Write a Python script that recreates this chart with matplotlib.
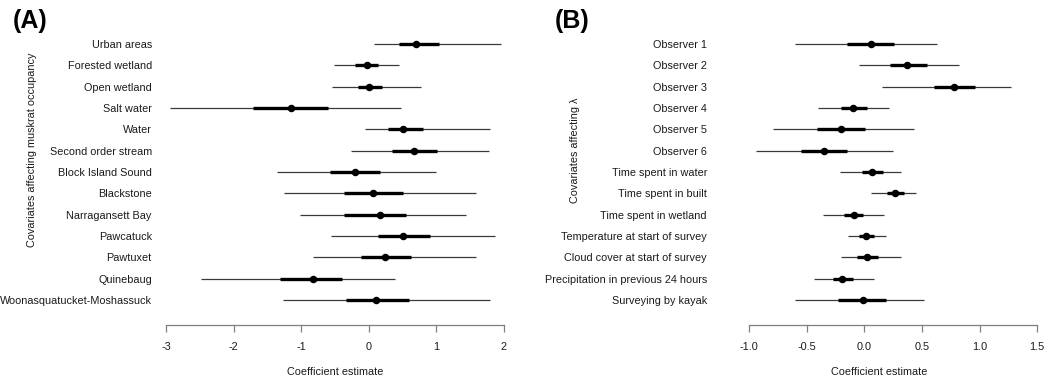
import matplotlib
matplotlib.use("Agg")
import matplotlib.pyplot as plt
import numpy as np

plt.rcParams['font.family'] = ['Liberation Sans', 'DejaVu Sans']

# ---- Panel A data ----
labels_a = ["Urban areas", "Forested wetland", "Open wetland", "Salt water", "Water",
            "Second order stream", "Block Island Sound", "Blackstone", "Narragansett Bay",
            "Pawcatuck", "Pawtuxet", "Quinebaug", "Woonasquatucket-Moshassuck"]
est_a = [0.70, -0.03, 0.01, -1.15, 0.50, 0.67, -0.20, 0.06, 0.16, 0.50, 0.24, -0.83, 0.11]
lo95_a = [0.07, -0.52, -0.54, -2.94, -0.06, -0.27, -1.36, -1.26, -1.02, -0.56, -0.83, -2.48, -1.27]
hi95_a = [1.96, 0.45, 0.77, 0.47, 1.79, 1.78, 0.99, 1.59, 1.44, 1.87, 1.59, 0.39, 1.80]
lo50_a = [0.45, -0.20, -0.16, -1.72, 0.28, 0.34, -0.57, -0.36, -0.37, 0.14, -0.12, -1.32, -0.34]
hi50_a = [1.04, 0.13, 0.20, -0.61, 0.80, 1.01, 0.17, 0.51, 0.55, 0.90, 0.62, -0.40, 0.59]
ticks_a = [-3, -2, -1, 0, 1, 2]
ticklabels_a = ["-3", "-2", "-1", "0", "1", "2"]

# ---- Panel B data ----
labels_b = ["Observer 1", "Observer 2", "Observer 3", "Observer 4", "Observer 5", "Observer 6",
            "Time spent in water", "Time spent in built", "Time spent in wetland",
            "Temperature at start of survey", "Cloud cover at start of survey",
            "Precipitation in previous 24 hours", "Surveying by kayak"]
est_b = [0.055, 0.37, 0.78, -0.10, -0.20, -0.35, 0.07, 0.27, -0.09, 0.015, 0.02, -0.19, -0.01]
lo95_b = [-0.60, -0.05, 0.15, -0.40, -0.79, -0.94, -0.21, 0.06, -0.36, -0.14, -0.20, -0.44, -0.60]
hi95_b = [0.63, 0.82, 1.27, 0.21, 0.43, 0.25, 0.32, 0.45, 0.17, 0.19, 0.32, 0.08, 0.52]
lo50_b = [-0.15, 0.22, 0.60, -0.20, -0.41, -0.55, -0.02, 0.20, -0.18, -0.05, -0.06, -0.27, -0.23]
hi50_b = [0.26, 0.54, 0.96, 0.02, 0.01, -0.15, 0.16, 0.34, -0.01, 0.08, 0.12, -0.10, 0.19]
ticks_b = [-1.0, -0.5, 0.0, 0.5, 1.0, 1.5]
ticklabels_b = ["-1.0", "-0.5", "0.0", "0.5", "1.0", "1.5"]

W, H = 1063, 383
fig = plt.figure(figsize=(W / 100, H / 100), dpi=100)

TXT = '#1a1a1a'
AXC = '#7f7f7f'
FS = 7.8


def add_ax(x0, x1, y_top, y_bot):
    return fig.add_axes([x0 / W, (H - y_bot) / H, (x1 - x0) / W, (y_bot - y_top) / H])


def draw(ax, labels, est, lo95, hi95, lo50, hi50, ticks, ticklabels, xlim, label_pad, xlab_x):
    n = len(labels)
    y = np.arange(1, n + 1)
    ax.hlines(y, lo95, hi95, color='#3a3a3a', lw=0.9, zorder=2)
    ax.hlines(y, lo50, hi50, color='black', lw=2.4, zorder=3)
    ax.plot(est, y, 'o', color='black', ms=4.4, zorder=4)
    ax.set_xlim(*xlim)
    ax.set_ylim(14.17, 0.344)
    ax.set_yticks(y)
    ax.set_yticklabels(labels, fontsize=FS, color=TXT)
    ax.tick_params(axis='y', length=0, pad=label_pad)
    ax.set_xticks(ticks)
    ax.set_xticklabels(ticklabels, fontsize=FS, color=TXT)
    ax.tick_params(axis='x', direction='out', length=5, width=0.9, color=AXC, pad=7)
    for s in ['top', 'right', 'left']:
        ax.spines[s].set_visible(False)
    ax.spines['bottom'].set_bounds(ticks[0], ticks[-1])
    ax.spines['bottom'].set_color(AXC)
    ax.spines['bottom'].set_linewidth(0.9)
    ax.set_xlabel("Coefficient estimate", fontsize=FS, color=TXT)
    ax.xaxis.set_label_coords(xlab_x, -0.159)
    ax.xaxis.label.set_va('center')
    ax.patch.set_visible(False)


axA = add_ax(152.5, 517.5, 30, 325)
draw(axA, labels_a, est_a, lo95_a, hi95_a, lo50_a, hi50_a, ticks_a, ticklabels_a,
     (-3.2, 2.2), 0.5, 0.5)

axB = add_ax(737.5, 1048.8, 30, 325)
draw(axB, labels_b, est_b, lo95_b, hi95_b, lo50_b, hi50_b, ticks_b, ticklabels_b,
     (-1.1, 1.6), 22, (879 - 737.5) / (1048.8 - 737.5))

fig.text(32 / W, 1 - 150 / H, "Covariates affecting muskrat occupancy", rotation=90,
         ha='center', va='center', fontsize=FS, color=TXT)
fig.text(575 / W, 1 - 150 / H, "Covariates affecting λ", rotation=90,
         ha='center', va='center', fontsize=FS, color=TXT)

fig.text(13 / W, 1 - 21 / H, "(A)", fontsize=18, fontweight='bold', ha='left', va='center')
fig.text(555 / W, 1 - 21 / H, "(B)", fontsize=18, fontweight='bold', ha='left', va='center')

fig.savefig("out.png", dpi=100)
